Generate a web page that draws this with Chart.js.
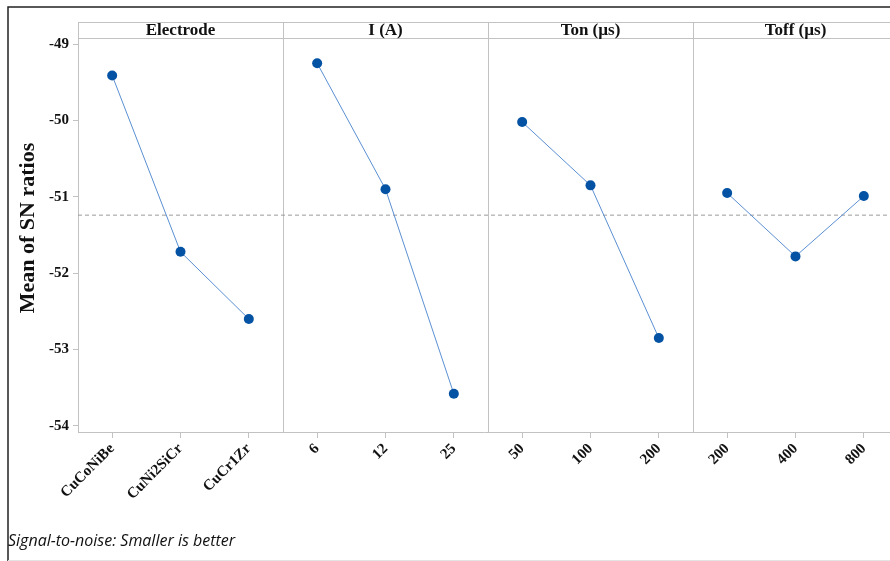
<!DOCTYPE html>
<html>
<head>
<meta charset="utf-8">
<script src="https://cdn.jsdelivr.net/npm/chart.js@4.4.1/dist/chart.umd.min.js"></script>
<style>
	html, body { margin: 0; padding: 0; background: #fff; overflow: hidden; }
	#mychart { display: block; width: 890px; height: 561px; }
</style>
</head>
<body>
<canvas id="mychart" width="890" height="561"></canvas>
<script>
// factor panels
var factors = ['Electrode', 'I (A)', 'Ton (\u00b5s)', 'Toff (\u00b5s)'];
var levels = [
	['CuCoNiBe', 'CuNi2SiCr', 'CuCr1Zr'],
	['6', '12', '25'],
	['50', '100', '200'],
	['200', '400', '800']
];
// mean of SN ratios per level
var electrode = [-49.41, -51.72, -52.60];
var current = [-49.25, -50.90, -53.58];
var ton = [-50.02, -50.85, -52.85];
var toff = [-50.95, -51.78, -50.99];
var grandMean = -51.24;
var yTicks = [-54, -53, -52, -51, -50, -49];

var series = [electrode, current, ton, toff];
var tickLabels = [];
var tickPos = [];
var datasets = [];
var i, j;
for (i = 0; i < series.length; i++) {
	var pts = [];
	for (j = 0; j < series[i].length; j++) {
		pts.push({ x: i * 3 + j + 0.5, y: series[i][j] });
		tickPos.push(i * 3 + j + 0.5);
		tickLabels.push(levels[i][j]);
	}
	datasets.push({
		data: pts,
		borderColor: '#5a8fd2',
		borderWidth: 1,
		pointRadius: 5,
		pointHoverRadius: 5,
		pointBackgroundColor: '#0352a3',
		pointBorderColor: '#0352a3',
		pointBorderWidth: 0,
		clip: false
	});
}
datasets.push({
	data: [{ x: 0, y: grandMean }, { x: 12, y: grandMean }],
	borderColor: '#9a9a9a',
	borderWidth: 1,
	borderDash: [4, 3],
	pointRadius: 0
});

var panels = {
	id: 'panels',
	beforeDatasetsDraw: function (chart) {
		var c = chart.ctx;
		var a = chart.chartArea;
		var xs = chart.scales.x;
		var top = a.top - 16;
		c.save();
		c.strokeStyle = '#c2c2c2';
		c.lineWidth = 1;
		c.beginPath();
		c.moveTo(a.left, top + 0.5);
		c.lineTo(a.right, top + 0.5);
		c.moveTo(a.left, a.top + 0.5);
		c.lineTo(a.right, a.top + 0.5);
		for (var k = 0; k <= 3; k++) {
			var px = Math.round(xs.getPixelForValue(k * 3)) + 0.5;
			c.moveTo(px, top);
			c.lineTo(px, a.bottom);
		}
		c.stroke();
		c.fillStyle = '#111';
		c.font = 'bold 17px "Liberation Serif", serif';
		c.textAlign = 'center';
		c.textBaseline = 'middle';
		for (var k2 = 0; k2 < factors.length; k2++) {
			var cx = xs.getPixelForValue(k2 * 3 + 1.5);
			c.fillText(factors[k2], cx, top + 8.5);
		}
		c.restore();
	},
	afterDraw: function (chart) {
		var c = chart.ctx;
		c.save();
		// outer frame
		c.strokeStyle = '#222';
		c.lineWidth = 1.5;
		c.beginPath();
		c.moveTo(8, 561);
		c.lineTo(8, 7);
		c.lineTo(890, 7);
		c.stroke();
		c.strokeStyle = '#e4e4e4';
		c.lineWidth = 1;
		c.beginPath();
		c.moveTo(8, 560.5);
		c.lineTo(890, 560.5);
		c.stroke();
		// y title
		c.fillStyle = '#111';
		c.font = 'bold 22px "Liberation Serif", serif';
		c.textAlign = 'center';
		c.textBaseline = 'middle';
		c.translate(28, 228);
		c.rotate(-Math.PI / 2);
		c.fillText('Mean of SN ratios', 0, 0);
		c.restore();
		// footnote
		c.save();
		c.fillStyle = '#111';
		c.font = 'italic 16px "Open Sans", sans-serif';
		c.textBaseline = 'alphabetic';
		c.fillText('Signal-to-noise: Smaller is better', 8, 546);
		c.restore();
	}
};

var ctx = document.getElementById('mychart').getContext('2d');
var myChart = new Chart(ctx, {
	type: 'line',
	data: { datasets: datasets },
	options: {
		responsive: false,
		animation: false,
		events: [],
		layout: { autoPadding: false, padding: { top: 38, right: 0, bottom: 0, left: 0 } },
		plugins: { legend: { display: false }, tooltip: { enabled: false } },
		scales: {
			x: {
				type: 'linear',
				min: 0,
				max: 11.883,
				afterBuildTicks: function (scale) {
					scale.ticks = tickPos.map(function (v) { return { value: v }; });
				},
				afterFit: function (scale) {
					scale.height = 129;
					scale.paddingLeft = 0;
					scale.paddingRight = 0;
				},
				border: { color: '#c2c2c2' },
				grid: { drawOnChartArea: false, color: '#c2c2c2', tickLength: 6 },
				ticks: {
					autoSkip: false,
					minRotation: 45,
					maxRotation: 45,
					padding: 2,
					color: '#111',
					font: { family: '"Liberation Serif", serif', size: 15, weight: 'bold' },
					callback: function (v, idx) { return tickLabels[idx]; }
				}
			},
			y: {
				min: -54.08,
				max: -48.92,
				afterBuildTicks: function (scale) {
					scale.ticks = yTicks.map(function (v) { return { value: v }; });
				},
				afterFit: function (scale) {
					scale.width = 78;
					scale.paddingTop = 0;
					scale.paddingBottom = 0;
				},
				border: { color: '#c2c2c2' },
				grid: { drawOnChartArea: false, color: '#c2c2c2', tickLength: 5 },
				ticks: {
					padding: 4,
					color: '#111',
					font: { family: '"Liberation Serif", serif', size: 15, weight: 'bold' },
					callback: function (v) { return String(v); }
				}
			}
		}
	},
	plugins: [panels]
});
</script>
</body>
</html>
